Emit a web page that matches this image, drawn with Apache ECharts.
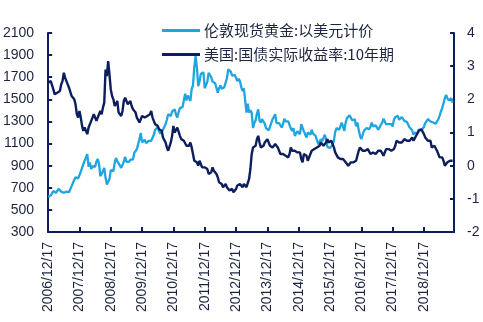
<!DOCTYPE html>
<html><head><meta charset="utf-8">
<script src="https://cdn.jsdelivr.net/npm/echarts@6/dist/echarts.min.js"></script>
<style>html,body{margin:0;padding:0;background:#fff}#c{width:483px;height:322px}</style>
</head><body><div id="c"></div>
<script>
// Half-monthly samples starting 2006/12/17 (index = half-months since start; ~17th and ~1st)
const xTickLabels = ['2006/12/17','2007/12/17','2008/12/17','2009/12/17','2010/12/17','2011/12/17','2012/12/17','2013/12/17','2014/12/17','2015/12/17','2016/12/17','2017/12/17','2018/12/17'];
const goldName = '伦敦现货黄金:以美元计价';
const yieldName = '美国:国债实际收益率:10年期';
const gold = [
 620,632,
 630,650, 670,670, 655,665, 690,680, 665,660, 655,650, 665,665, 660,670, 715,745, 760,795, 790,785, 800,845,
 880,915, 910,975, 1005,890, 930,870, 895,885, 890,935, 960,915, 805,825, 850,880, 790,730, 740,780, 860,875,
 850,925, 970,940, 920,925, 880,890, 935,980, 935,935, 935,955, 940,955, 1015,1000, 1050,1050, 1140,1195, 1110,1100,
 1135,1105, 1115,1125, 1120,1125, 1140,1180, 1225,1230, 1250,1210, 1190,1185, 1225,1250, 1275,1315, 1365,1350, 1350,1390, 1380,1410,
 1360,1335, 1385,1420, 1415,1430, 1490,1550, 1490,1535, 1535,1485, 1595,1625, 1790,1890, 1790,1620, 1660,1730, 1735,1745, 1600,1595,
 1660,1740, 1735,1700, 1660,1670, 1645,1660, 1560,1600, 1625,1595, 1585,1610, 1615,1690, 1770,1775, 1750,1715, 1715,1720, 1695,1665,
 1685,1665, 1610,1575, 1600,1600, 1380,1460, 1380,1400, 1380,1240, 1285,1310, 1370,1410, 1310,1290, 1320,1320, 1280,1240, 1230,1220,
 1250,1245, 1320,1330, 1365,1285, 1300,1285, 1295,1245, 1275,1325, 1300,1290, 1300,1285, 1235,1215, 1240,1170, 1190,1210, 1195,1185,
 1275,1275, 1210,1210, 1155,1200, 1205,1180, 1225,1190, 1180,1170, 1130,1095, 1115,1140, 1120,1115, 1180,1140, 1070,1065, 1060,1075,
 1090,1125, 1205,1240, 1255,1225, 1240,1290, 1275,1215, 1290,1330, 1330,1355, 1350,1310, 1315,1320, 1255,1290, 1225,1170, 1140,1150,
 1215,1210, 1240,1245, 1230,1250, 1290,1255, 1255,1265, 1255,1225, 1240,1270, 1290,1325, 1315,1275, 1285,1275, 1280,1275, 1255,1315,
 1340,1345, 1350,1315, 1320,1340, 1345,1305, 1290,1295, 1280,1245, 1230,1220, 1180,1200, 1200,1190, 1225,1235, 1220,1225, 1250,1285,
 1290,1320, 1330,1300, 1305,1290, 1275,1280, 1280,1320, 1350,1390, 1420,1430, 1510,1540, 1510,1490, 1490,1510, 1470
];
const realYield = [
 2.50,2.45,
 2.55,2.50, 2.30,2.15, 2.15,2.20, 2.20,2.25, 2.45,2.55, 2.80,2.65, 2.55,2.45, 2.35,2.30, 2.10,2.10, 2.00,1.85, 1.55,1.45, 1.65,1.45,
 1.20,1.05, 1.15,1.05, 0.95,1.15, 1.20,1.35, 1.45,1.55, 1.55,1.35, 1.40,1.55, 1.65,1.55, 1.75,1.90, 2.90,2.70, 3.15,2.75, 2.30,2.10,
 2.00,1.80, 1.75,1.95, 1.60,1.55, 1.50,1.65, 1.95,2.05, 1.95,1.85, 1.85,1.95, 1.80,1.70, 1.65,1.60, 1.45,1.40, 1.30,1.25, 1.50,1.55,
 1.45,1.40, 1.50,1.45, 1.55,1.65, 1.45,1.40, 1.25,1.30, 1.20,1.10, 1.10,1.05, 0.85,0.80, 0.70,0.55, 0.45,0.45, 0.70,0.90, 1.20,1.00,
 1.05,1.15, 1.10,0.90, 0.80,0.85, 0.75,0.70, 0.60,0.55, 0.60,0.70, 0.55,0.35, 0.15,0.10, 0.10,0.00, 0.15,0.05, -0.05,0.00, -0.05,-0.05,
 -0.10,-0.25, -0.25,-0.20, -0.05,-0.15, -0.20,-0.25, -0.35,-0.50, -0.50,-0.55, -0.65,-0.60, -0.55,-0.65, -0.70,-0.75, -0.75,-0.70, -0.80,-0.75, -0.70,-0.60,
 -0.60,-0.55, -0.60,-0.65, -0.55,-0.60, -0.65,-0.65, -0.40,-0.10, 0.35,0.55, 0.50,0.60, 0.80,0.90, 0.70,0.55, 0.50,0.60, 0.70,0.75, 0.80,0.75,
 0.60,0.55, 0.55,0.50, 0.65,0.60, 0.55,0.50, 0.35,0.40, 0.35,0.35, 0.30,0.25, 0.25,0.35, 0.55,0.45, 0.40,0.45, 0.45,0.40, 0.45,0.40,
 0.20,0.10, 0.35,0.35, 0.30,0.15, 0.15,0.35, 0.45,0.50, 0.50,0.55, 0.55,0.50, 0.60,0.70, 0.70,0.60, 0.60,0.70, 0.80,0.70, 0.75,0.75,
 0.65,0.55, 0.40,0.40, 0.25,0.25, 0.20,0.25, 0.20,0.25, 0.10,0.05, 0.00,0.05, 0.10,0.05, 0.10,0.05, 0.15,0.20, 0.45,0.55, 0.60,0.45,
 0.40,0.45, 0.45,0.50, 0.50,0.35, 0.30,0.40, 0.45,0.35, 0.35,0.45, 0.50,0.45, 0.40,0.30, 0.35,0.50, 0.55,0.50, 0.50,0.45, 0.45,0.50,
 0.60,0.75, 0.75,0.70, 0.70,0.70, 0.75,0.80, 0.85,0.75, 0.75,0.75, 0.80,0.85, 0.75,0.80, 0.90,0.95, 1.05,1.10, 1.10,1.05, 0.95,0.85,
 0.85,0.75, 0.75,0.75, 0.55,0.55, 0.60,0.55, 0.45,0.35, 0.25,0.25, 0.25,0.15, 0.00,-0.05, 0.10,0.05, 0.15,0.20, 0.15
];
const navy = '#0c1f5c';
const lightBlue = '#1fa5df';
const txt = '#1c2440';
const chart = echarts.init(document.getElementById('c'), null, {renderer:'canvas'});
chart.setOption({
  animation:false,
  backgroundColor:'#fff',
  textStyle:{fontFamily:'"Liberation Sans", Arial, "Noto Sans CJK SC", sans-serif'},
  grid:{left:48,right:29,top:33,bottom:90,containLabel:false},
  legend:{
    orient:'vertical', left:157, top:18, itemWidth:38, itemHeight:3, itemGap:9,
    icon:'rect',
    textStyle:{fontSize:15,color:txt,fontFamily:'"Noto Sans CJK SC", "Liberation Sans", sans-serif',padding:[0,0,0,-1]},
    data:[goldName,yieldName]
  },
  xAxis:{
    type:'value', min:0, max:12.96, interval:1,
    axisLine:{onZero:false,lineStyle:{color:navy,width:2}},
    axisTick:{inside:true,length:5,lineStyle:{color:navy,width:2}},
    splitLine:{show:false},
    axisLabel:{rotate:90,fontSize:14,color:txt,margin:10,showMaxLabel:false,
      formatter:function(v){const i=Math.round(v);return Math.abs(v-i)<1e-6&&xTickLabels[i]?xTickLabels[i]:'';}}
  },
  yAxis:[
    {type:'value',min:300,max:2100,interval:200,position:'left',
     axisLine:{show:true,lineStyle:{color:navy,width:2}},
     axisTick:{show:true,inside:true,length:4,lineStyle:{color:navy,width:2}},
     splitLine:{show:false},
     axisLabel:{fontSize:14,color:txt,margin:14,formatter:function(v){return String(v);}}},
    {type:'value',min:-2,max:4,interval:1,position:'right',
     axisLine:{show:true,lineStyle:{color:navy,width:2}},
     axisTick:{show:true,inside:true,length:4,lineStyle:{color:navy,width:2}},
     splitLine:{show:false},
     axisLabel:{fontSize:14,color:txt,margin:13,formatter:function(v){return String(v);}}}
  ],
  series:[
    {name:goldName,type:'line',yAxisIndex:0,showSymbol:false,
     itemStyle:{color:lightBlue},lineStyle:{color:lightBlue,width:2.3},
     data:gold.map((v,i)=>[i/24,v])},
    {name:yieldName,type:'line',yAxisIndex:1,showSymbol:false,
     itemStyle:{color:navy},lineStyle:{color:navy,width:2.4},
     data:realYield.map((v,i)=>[i/24,v])}
  ]
});
</script></body></html>
